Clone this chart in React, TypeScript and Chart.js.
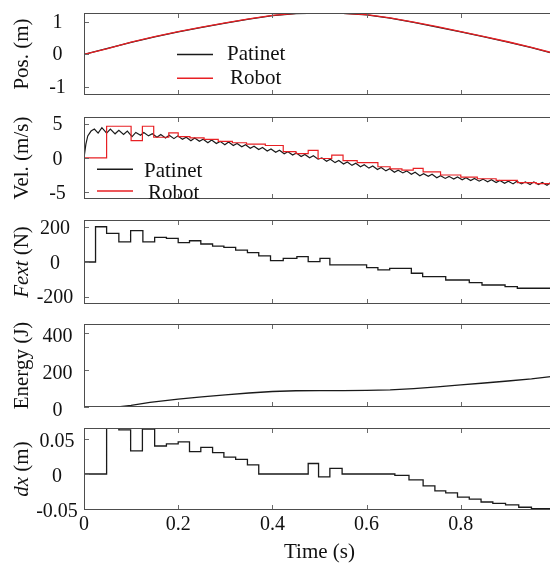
import { useEffect, useRef } from 'react';
import { Chart, registerables } from 'chart.js';

Chart.register(...registerables);

const SERIF = '"Liberation Serif", "Times New Roman", Times, serif';
const TEXT = '#111111';
const BLACK = '#1a1a1a';
const RED = 'rgb(232,32,36)';
const FRAME = '#4d4d4d';
const TICK = '#6a6a6a';

// ---------- data ----------
const xTicks = [0, 0.2, 0.4, 0.6, 0.8, 1];
const legendLabels = ['Patinet', 'Robot'];
const timeTitle = 'Time (s)';

const posTicks = [-1, 0, 1];
const posTime = [0, 0.05, 0.1, 0.15, 0.2, 0.25, 0.3, 0.35, 0.4, 0.45, 0.5, 0.55, 0.6, 0.65, 0.7, 0.75, 0.8, 0.85, 0.9, 0.95, 1.0];
const posPatinet = [0, 0.19, 0.37, 0.54, 0.69, 0.83, 0.96, 1.08, 1.19, 1.25, 1.27, 1.26, 1.21, 1.11, 0.98, 0.84, 0.69, 0.54, 0.38, 0.21, 0.02];
const posRobot = [0, 0.18, 0.38, 0.55, 0.7, 0.84, 0.97, 1.09, 1.2, 1.26, 1.27, 1.26, 1.22, 1.12, 0.99, 0.85, 0.7, 0.55, 0.39, 0.22, 0.03];

const velTicks = [-5, 0, 5];
const velPatinetTime = [
  0, 0.004, 0.008, 0.015, 0.022, 0.03, 0.038, 0.048, 0.056, 0.066, 0.074, 0.084, 0.092, 0.102, 0.11, 0.12,
  0.127, 0.137, 0.145, 0.155, 0.163, 0.173, 0.181, 0.191, 0.199, 0.209, 0.217, 0.227, 0.235, 0.245, 0.253,
  0.263, 0.271, 0.281, 0.289, 0.299, 0.307, 0.317, 0.325, 0.335, 0.343, 0.353, 0.361, 0.371, 0.379, 0.389,
  0.397, 0.407, 0.415, 0.425, 0.433, 0.443, 0.451, 0.461, 0.469, 0.479, 0.487, 0.497, 0.505, 0.515, 0.523,
  0.533, 0.541, 0.551, 0.559, 0.569, 0.577, 0.587, 0.595, 0.605, 0.613, 0.623, 0.631, 0.641, 0.649, 0.659,
  0.667, 0.677, 0.685, 0.695, 0.703, 0.713, 0.721, 0.731, 0.739, 0.749, 0.757, 0.767, 0.775, 0.785, 0.793,
  0.803, 0.811, 0.821, 0.829, 0.839, 0.847, 0.857, 0.865, 0.875, 0.883, 0.893, 0.901, 0.911, 0.919, 0.929,
  0.937, 0.947, 0.955, 0.965, 0.973, 0.983, 0.991, 1.0,
];
const velPatinet = [
  0, 2.0, 3.2, 3.9, 4.2, 3.6, 4.4, 3.6, 4.2, 3.5, 4.0, 3.4, 3.9, 3.1, 3.7, 3.3,
  3.7, 3.2, 3.5, 3.0, 3.4, 2.9, 3.3, 2.8, 3.2, 2.7, 3.0, 2.5, 2.9, 2.4, 2.7,
  2.2, 2.6, 2.1, 2.4, 1.9, 2.3, 1.8, 2.1, 1.6, 1.9, 1.4, 1.7, 1.2, 1.5, 1.0,
  1.3, 0.8, 1.1, 0.6, 0.9, 0.4, 0.7, 0.2, 0.5, 0.0, 0.3, -0.2, 0.0, -0.5, -0.2,
  -0.7, -0.4, -0.9, -0.6, -1.1, -0.8, -1.3, -1.0, -1.5, -1.2, -1.7, -1.4, -1.9, -1.6, -2.1,
  -1.8, -2.2, -1.9, -2.4, -2.1, -2.6, -2.3, -2.7, -2.4, -2.9, -2.6, -3.0, -2.7, -3.1, -2.8,
  -3.2, -2.9, -3.3, -3.0, -3.4, -3.1, -3.5, -3.2, -3.6, -3.3, -3.7, -3.4, -3.8, -3.4, -3.8,
  -3.5, -3.9, -3.5, -3.9, -3.6, -4.0, -3.6, -3.8,
];
const velRobotTime = [
  0, 0.048, 0.1, 0.124, 0.148, 0.18, 0.2, 0.225, 0.255, 0.285, 0.315, 0.345, 0.385, 0.423, 0.45, 0.476,
  0.497, 0.526, 0.55, 0.58, 0.607, 0.624, 0.65, 0.675, 0.699, 0.72, 0.757, 0.8, 0.835, 0.875, 0.92, 0.96, 1.0,
];
const velRobot = [
  0, 4.6, 2.5, 4.6, 3.0, 3.65, 3.1, 2.9, 2.7, 2.4, 2.2, 2.0, 1.8, 0.9, 0.6, 1.1,
  -0.1, 0.4, -0.4, -0.7, -0.7, -1.3, -1.6, -1.8, -1.55, -2.05, -2.5, -2.8, -3.05, -3.3, -3.6, -3.75, -3.75,
];

const fextTicks = [-200, 0, 200];
const fextTime = [
  0, 0.0245, 0.048, 0.074, 0.099, 0.125, 0.15, 0.175, 0.2, 0.224, 0.248, 0.273, 0.297, 0.322, 0.347, 0.371,
  0.396, 0.423, 0.452, 0.476, 0.501, 0.522, 0.6, 0.624, 0.649, 0.695, 0.719, 0.768, 0.818, 0.845, 0.894, 0.92, 1.0,
];
const fextValues = [
  0, 204, 166, 117, 181, 117, 143, 137, 112, 123, 104, 92, 85, 69, 54, 35,
  8, 21, 31, 2, 21, -17, -33, -46, -37, -65, -85, -104, -119, -133, -143, -152, -152,
];

const energyTicks = [0, 200, 400];
const energyTime = [0, 0.072, 0.1, 0.14, 0.2, 0.25, 0.3, 0.35, 0.4, 0.45, 0.5, 0.55, 0.6, 0.65, 0.7, 0.75, 0.8, 0.85, 0.9, 0.95, 1.0];
const energyValues = [0, 0, 9, 25, 43, 55, 66, 76, 84, 88, 89, 89, 90, 93, 100, 109, 120, 130, 141, 152, 167];

const dxTicks = [-0.05, 0, 0.05];
const dxTime = [
  0, 0.048, 0.074, 0.099, 0.124, 0.15, 0.175, 0.2, 0.224, 0.248, 0.273, 0.297, 0.322, 0.347, 0.371, 0.476,
  0.498, 0.522, 0.548, 0.66, 0.69, 0.72, 0.745, 0.768, 0.793, 0.818, 0.843, 0.868, 0.895, 0.923, 0.95, 1.0,
];
const dxValues = [
  0, 0.0655, 0.063, 0.033, 0.064, 0.04, 0.043, 0.046, 0.032, 0.038, 0.0305, 0.024, 0.021, 0.013, 0, 0.015,
  -0.004, 0.008, 0, -0.002, -0.0085, -0.017, -0.024, -0.027, -0.033, -0.036, -0.04, -0.042, -0.044, -0.0475, -0.0495, -0.0505,
];

// ---------- layout ----------
const PAD_T = 10;
const PAD_B = 10;
const PAD_R = 15;
const Y_AXIS_W = 84;
const CANVAS_W = 570;
const X_AXIS_H = 53;
const Y_TITLE_X = 22;

type Seg = { text: string; italic?: boolean };
type Series = { label: string; time: number[]; values: number[]; color: string; stepped: boolean; width: number; order: number };
type LegendItem = { label: string; color: string; x0: number; x1: number; y: number; tx: number; ty: number };
type Panel = {
  top: number; height: number; min: number; max: number; ticks: number[];
  title: Seg[]; labelOffset: number; labelCenter: number;
  series: Series[]; legend?: LegendItem[]; last?: boolean;
};

const panels: Panel[] = [
  {
    top: 13, height: 82, min: -1.24, max: 1.27, ticks: posTicks,
    title: [{ text: 'Pos. (m)' }], labelOffset: 0.5, labelCenter: 57.5,
    series: [
      { label: legendLabels[0], time: posTime, values: posPatinet, color: BLACK, stepped: false, width: 1.3, order: 1 },
      { label: legendLabels[1], time: posTime, values: posRobot, color: RED, stepped: false, width: 1.3, order: 0 },
    ],
    legend: [
      { label: legendLabels[0], color: BLACK, x0: 93, x1: 129, y: 41.5, tx: 143, ty: 41.5 },
      { label: legendLabels[1], color: RED, x0: 93, x1: 129, y: 65.3, tx: 146, ty: 65 },
    ],
  },
  {
    top: 117, height: 82, min: -6.0, max: 5.95, ticks: velTicks,
    title: [{ text: 'Vel. (m/s)' }], labelOffset: 1.5, labelCenter: 57.5,
    series: [
      { label: legendLabels[0], time: velPatinetTime, values: velPatinet, color: BLACK, stepped: false, width: 1.2, order: 1 },
      { label: legendLabels[1], time: velRobotTime, values: velRobot, color: RED, stepped: true, width: 1.2, order: 0 },
    ],
    legend: [
      { label: legendLabels[0], color: BLACK, x0: 13, x1: 49, y: 52.3, tx: 60, ty: 54 },
      { label: legendLabels[1], color: RED, x0: 13, x1: 49, y: 74, tx: 64, ty: 76 },
    ],
  },
  {
    top: 220, height: 84, min: -243, max: 243, ticks: fextTicks,
    title: [{ text: 'Fext', italic: true }, { text: ' (N)' }], labelOffset: 1.5, labelCenter: 55,
    series: [
      { label: 'Fext', time: fextTime, values: fextValues, color: BLACK, stepped: true, width: 1.3, order: 0 },
    ],
  },
  {
    top: 324, height: 83, min: 0, max: 450, ticks: energyTicks,
    title: [{ text: 'Energy (J)' }], labelOffset: 4, labelCenter: 57.5,
    series: [
      { label: 'Energy', time: energyTime, values: energyValues, color: BLACK, stepped: false, width: 1.3, order: 0 },
    ],
  },
  {
    top: 428, height: 82, min: -0.0514, max: 0.0657, ticks: dxTicks,
    title: [{ text: 'dx', italic: true }, { text: ' (m)' }], labelOffset: 3, labelCenter: 57,
    series: [
      { label: 'dx', time: dxTime, values: dxValues, color: BLACK, stepped: true, width: 1.3, order: 0 },
    ],
    last: true,
  },
];

function canvasHeight(p: Panel) {
  return PAD_T + p.height + (p.last ? X_AXIS_H : PAD_B);
}

function framePlugin(p: Panel) {
  return {
    id: 'frameTicks',
    afterDatasetsDraw(chart: any) {
      const { ctx, chartArea } = chart;
      const { left, top, right, bottom } = chartArea;
      const xs = chart.scales.x;
      const ys = chart.scales.y;
      ctx.save();
      ctx.lineWidth = 1;
      ctx.strokeStyle = TICK;
      ctx.beginPath();
      xTicks.forEach((v) => {
        const px = Math.round(xs.getPixelForValue(v)) + 0.5;
        ctx.moveTo(px, top);
        ctx.lineTo(px, top + 5);
        ctx.moveTo(px, bottom);
        ctx.lineTo(px, bottom - 5);
      });
      p.ticks.forEach((v) => {
        const py = Math.round(ys.getPixelForValue(v)) + 0.5;
        ctx.moveTo(left, py);
        ctx.lineTo(left + 5, py);
        ctx.moveTo(right, py);
        ctx.lineTo(right - 5, py);
      });
      ctx.stroke();
      ctx.strokeStyle = FRAME;
      ctx.strokeRect(left + 0.5, top + 0.5, right - left - 1, bottom - top - 1);
      ctx.restore();
    },
  };
}

function yTitlePlugin(p: Panel) {
  return {
    id: 'yTitle',
    afterDraw(chart: any) {
      const { ctx, chartArea } = chart;
      const cy = (chartArea.top + chartArea.bottom) / 2;
      ctx.save();
      ctx.translate(Y_TITLE_X, cy);
      ctx.rotate(-Math.PI / 2);
      ctx.textBaseline = 'middle';
      ctx.textAlign = 'left';
      ctx.fillStyle = TEXT;
      const fonts = p.title.map((s) => `${s.italic ? 'italic ' : ''}21px ${SERIF}`);
      let total = 0;
      const widths = p.title.map((s, i) => {
        ctx.font = fonts[i];
        const w = ctx.measureText(s.text).width;
        total += w;
        return w;
      });
      let x = -total / 2;
      p.title.forEach((s, i) => {
        ctx.font = fonts[i];
        ctx.fillText(s.text, x, 0);
        x += widths[i];
      });
      ctx.restore();
    },
  };
}

function legendPlugin(p: Panel) {
  return {
    id: 'innerLegend',
    afterDraw(chart: any) {
      if (!p.legend) return;
      const { ctx, chartArea } = chart;
      ctx.save();
      p.legend.forEach((it) => {
        ctx.strokeStyle = it.color;
        ctx.lineWidth = 1.5;
        ctx.beginPath();
        ctx.moveTo(chartArea.left + it.x0, chartArea.top + it.y);
        ctx.lineTo(chartArea.left + it.x1, chartArea.top + it.y);
        ctx.stroke();
        ctx.fillStyle = TEXT;
        ctx.font = `21px ${SERIF}`;
        ctx.textBaseline = 'middle';
        ctx.textAlign = 'left';
        ctx.fillText(it.label, chartArea.left + it.tx, chartArea.top + it.ty);
      });
      ctx.restore();
    },
  };
}

export default function App() {
  const refs = useRef<(HTMLCanvasElement | null)[]>([]);

  useEffect(() => {
    const charts: Chart[] = [];
    const mctx = document.createElement('canvas').getContext('2d') as CanvasRenderingContext2D;
    mctx.font = `20px ${SERIF}`;
    panels.forEach((p, i) => {
      const canvas = refs.current[i];
      if (!canvas) return;
      const widest = Math.max(...p.ticks.map((v) => mctx.measureText(String(v)).width));
      const tickPad = Y_AXIS_W - p.labelCenter - widest / 2;
      const config: any = {
        type: 'line',
        data: {
          datasets: p.series.map((s) => ({
            label: s.label,
            data: s.time.map((t, k) => ({ x: t, y: s.values[k] })),
            borderColor: s.color,
            backgroundColor: s.color,
            borderWidth: s.width,
            pointRadius: 0,
            stepped: s.stepped ? 'before' : false,
            tension: 0,
            fill: false,
            order: s.order,
          })),
        },
        options: {
          animation: false,
          responsive: false,
          maintainAspectRatio: false,
          devicePixelRatio: 1,
          events: [],
          layout: { padding: { top: PAD_T, right: PAD_R, bottom: p.last ? 0 : PAD_B, left: 0 } },
          plugins: { legend: { display: false }, tooltip: { enabled: false } },
          scales: {
            x: {
              type: 'linear',
              min: 0,
              max: 1,
              grid: { display: false, drawTicks: false },
              border: { display: false },
              ticks: {
                display: !!p.last,
                font: { family: SERIF, size: 20 },
                color: TEXT,
                padding: 3,
                maxRotation: 0,
                autoSkip: false,
                callback: (v: number) => String(v),
              },
              title: {
                display: !!p.last,
                text: timeTitle,
                font: { family: SERIF, size: 21, lineHeight: 1 },
                color: TEXT,
                padding: 0,
              },
              afterBuildTicks: (s: any) => {
                s.ticks = xTicks.map((v) => ({ value: v }));
              },
              afterFit: (s: any) => {
                s.height = p.last ? X_AXIS_H : 0;
                s.paddingLeft = 0;
                s.paddingRight = 0;
              },
            },
            y: {
              type: 'linear',
              min: p.min,
              max: p.max,
              grid: { display: false, drawTicks: false },
              border: { display: false },
              ticks: {
                font: { family: SERIF, size: 20 },
                color: TEXT,
                crossAlign: 'center',
                padding: tickPad,
                labelOffset: p.labelOffset,
                autoSkip: false,
                callback: (v: number) => String(v),
              },
              afterBuildTicks: (s: any) => {
                s.ticks = p.ticks.map((v) => ({ value: v }));
              },
              afterFit: (s: any) => {
                s.width = Y_AXIS_W;
                s.paddingTop = 0;
                s.paddingBottom = 0;
              },
            },
          },
        },
        plugins: [framePlugin(p), yTitlePlugin(p), legendPlugin(p)],
      };
      charts.push(new Chart(canvas, config));
    });
    return () => charts.forEach((c) => c.destroy());
  }, []);

  return (
    <div
      style={{
        position: 'absolute',
        left: 0,
        top: 0,
        width: 550,
        height: 564,
        overflow: 'hidden',
        background: '#ffffff',
      }}
    >
      {panels.map((p, i) => (
        <canvas
          key={i}
          ref={(el) => {
            refs.current[i] = el;
          }}
          width={CANVAS_W}
          height={canvasHeight(p)}
          style={{ position: 'absolute', left: 0, top: p.top - PAD_T, display: 'block' }}
        />
      ))}
    </div>
  );
}
